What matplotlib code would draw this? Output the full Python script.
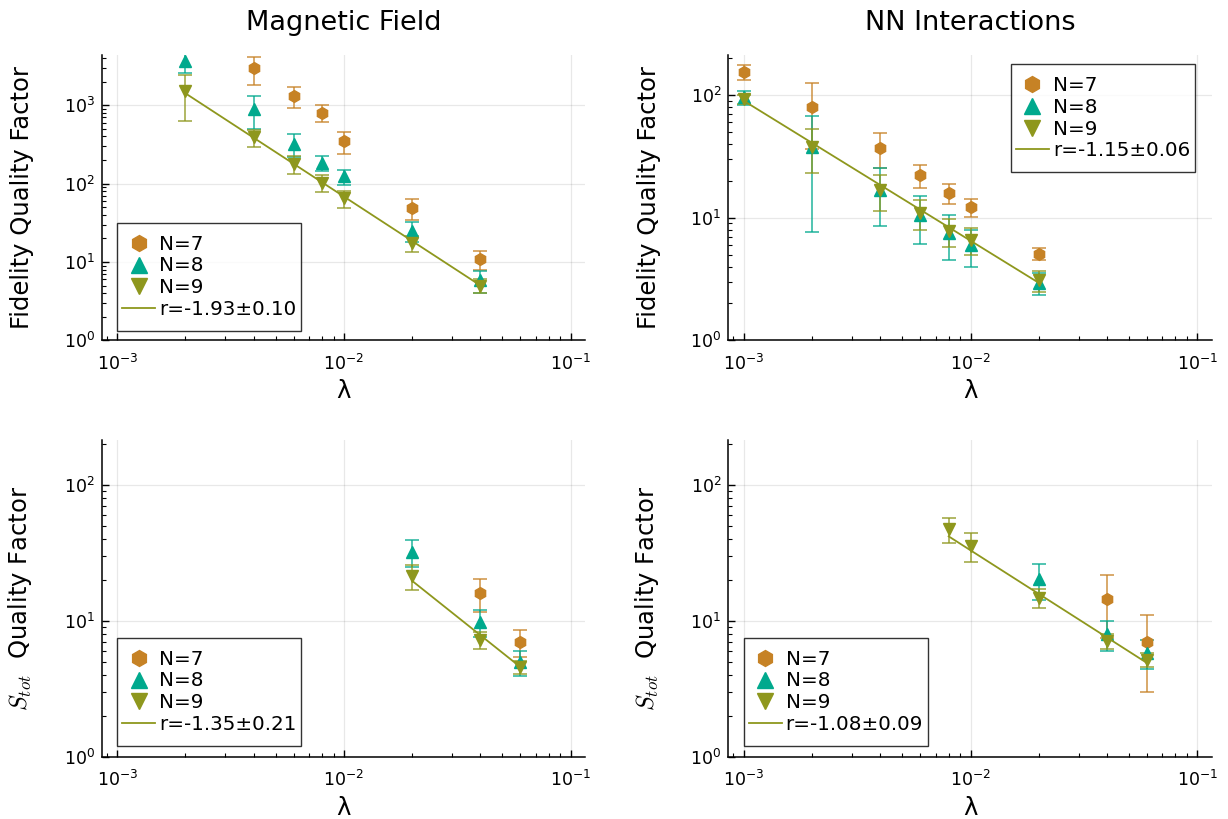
import matplotlib
matplotlib.use("Agg")
import matplotlib.pyplot as plt
from matplotlib.path import Path
from matplotlib.ticker import LogLocator, NullFormatter

# Plots.jl palette colours used for the three system sizes
C7, C8, C9 = "#c68225", "#00a98d", "#8e971d"

# ---- Magnetic Field, fidelity quality factor
mf_fid_x7 = [0.004, 0.006, 0.008, 0.01, 0.02, 0.04]
mf_fid_y7 = [2970, 1315, 805, 350, 49, 11]
mf_fid_e7 = [1150, 400, 190, 108, 15, 3]
mf_fid_x8 = [0.002, 0.004, 0.006, 0.008, 0.01, 0.02, 0.04]
mf_fid_y8 = [3720, 898, 325, 185, 124, 25, 5.8]
mf_fid_e8 = [1100, 400, 105, 40, 27, 7, 1.8]
mf_fid_x9 = [0.002, 0.004, 0.006, 0.008, 0.01, 0.02, 0.04]
mf_fid_y9 = [1535, 390, 178, 103, 65.5, 17.4, 5.0]
mf_fid_e9 = [900, 100, 44, 25, 16, 4, 1]
mf_fid_fitx = [0.002, 0.04]
mf_fid_fity = [1420, 5.0]
mf_fid_label = "r=-1.93±0.10"

# ---- NN Interactions, fidelity quality factor
nn_fid_x = [0.001, 0.002, 0.004, 0.006, 0.008, 0.01, 0.02]
nn_fid_y7 = [156, 80.7, 37.3, 22.4, 15.8, 12.2, 5.07]
nn_fid_e7 = [22, 44, 12, 4.8, 2.9, 2.0, 0.58]
nn_fid_y8 = [96.3, 37.6, 17.0, 10.6, 7.5, 6.0, 2.94]
nn_fid_e8 = [13, 30, 8.5, 4.5, 3.0, 2.0, 0.6]
nn_fid_y9 = [93.3, 38, 16.9, 10.9, 7.8, 6.6, 3.09]
nn_fid_e9 = [8, 15, 5.5, 3, 2, 1.6, 0.6]
nn_fid_fitx = [0.001, 0.02]
nn_fid_fity = [90, 2.94]
nn_fid_label = "r=-1.15±0.06"

# ---- Magnetic Field, S_tot quality factor
mf_s_x7 = [0.04, 0.06]
mf_s_y7 = [15.9, 7.0]
mf_s_e7 = [4.3, 1.6]
mf_s_x8 = [0.02, 0.04, 0.06]
mf_s_y8 = [32, 9.8, 4.95]
mf_s_e8 = [7, 2.2, 1]
mf_s_x9 = [0.02, 0.04, 0.06]
mf_s_y9 = [21.2, 7.2, 4.56]
mf_s_e9 = [4.5, 1.0, 0.5]
mf_s_fitx = [0.02, 0.06]
mf_s_fity = [19.6, 4.56]
mf_s_label = "r=-1.35±0.21"

# ---- NN Interactions, S_tot quality factor
nn_s_x7 = [0.04, 0.06]
nn_s_y7 = [14.5, 7.0]
nn_s_e7 = [7, 4]
nn_s_x8 = [0.02, 0.04, 0.06]
nn_s_y8 = [20.3, 8.0, 5.8]
nn_s_e8 = [6, 2, 1.4]
nn_s_x9 = [0.008, 0.01, 0.02, 0.04, 0.06]
nn_s_y9 = [46.9, 35.4, 14.8, 7.1, 5.15]
nn_s_e9 = [9.5, 8.5, 2.3, 0.9, 0.6]
nn_s_fitx = [0.008, 0.06]
nn_s_fity = [41.7, 4.88]
nn_s_label = "r=-1.08±0.09"

plt.rcParams["font.family"] = "DejaVu Sans"

fig = plt.figure(figsize=(12.28, 8.19), dpi=100)
W, H = 1228, 819
LEG_DY = 7  # extra vertical padding of the legend frame (px)


def make_axes(left, top, right, bottom):
    return fig.add_axes([left / W, 1 - bottom / H, (right - left) / W, (bottom - top) / H])


def tall_box(x0, y0, width, height, mutation_size):
    # square frame with more room above and below than at the sides
    y_lo, y_hi = y0 - LEG_DY, y0 + height + LEG_DY
    return Path([(x0, y_lo), (x0 + width, y_lo), (x0 + width, y_hi), (x0, y_hi), (x0, y_lo)],
                closed=True)


ax_tl = make_axes(101.7, 55, 585, 340.3)
ax_tr = make_axes(728.3, 55, 1211.7, 340.3)
ax_bl = make_axes(101.7, 440, 585, 756.7)
ax_br = make_axes(728.3, 440, 1211.7, 756.7)


def draw_series(ax, x, y, e, color, marker, label, ms):
    ax.errorbar(x, y, yerr=e, fmt="none", ecolor=color, elinewidth=1.2,
                capsize=5, capthick=1.2, alpha=0.8, zorder=2)
    ax.plot(x, y, linestyle="none", marker=marker, color=color, ms=ms,
            mec=color, label=label, zorder=3)


def style(ax, ylim, legend_kw):
    ax.set_xscale("log")
    ax.set_yscale("log")
    ax.set_xlim(8.54e-4, 0.1156)
    ax.set_ylim(*ylim)
    for s in ["top", "right"]:
        ax.spines[s].set_visible(False)
    for s in ["left", "bottom"]:
        ax.spines[s].set_linewidth(1.1)
    ax.grid(True, which="major", color="black", alpha=0.09, linewidth=0.9)
    ax.yaxis.set_major_locator(LogLocator(base=10, numticks=10))
    ax.yaxis.set_minor_locator(LogLocator(base=10, subs=range(2, 10), numticks=10))
    ax.yaxis.set_minor_formatter(NullFormatter())
    ax.xaxis.set_minor_formatter(NullFormatter())
    ax.tick_params(which="major", direction="in", length=5, width=1, labelsize=12.5, pad=5)
    ax.tick_params(axis="x", which="major", pad=9.5)
    ax.tick_params(which="minor", direction="in", length=3, width=0.8)
    ax.set_xlabel("λ", fontsize=17.5, labelpad=4)
    leg = ax.legend(fontsize=14.3, frameon=True, fancybox=False, edgecolor="black",
                    borderaxespad=0, handlelength=1.65, handletextpad=0.2,
                    labelspacing=0.14, borderpad=0.25, markerscale=1.35, **legend_kw)
    leg.get_frame().set_linewidth(1.0)
    leg.get_frame().set_boxstyle(tall_box)
    leg.set_zorder(5)


panels = [
    (ax_tl, [(mf_fid_x7, mf_fid_y7, mf_fid_e7), (mf_fid_x8, mf_fid_y8, mf_fid_e8),
             (mf_fid_x9, mf_fid_y9, mf_fid_e9)], mf_fid_fitx, mf_fid_fity, mf_fid_label,
     (1, 4385), dict(loc="lower left", bbox_to_anchor=(0.0323, (340.3 - 331 + LEG_DY) / 285.3))),
    (ax_tr, [(nn_fid_x, nn_fid_y7, nn_fid_e7), (nn_fid_x, nn_fid_y8, nn_fid_e8),
             (nn_fid_x, nn_fid_y9, nn_fid_e9)], nn_fid_fitx, nn_fid_fity, nn_fid_label,
     (1, 213), dict(loc="upper right", bbox_to_anchor=(0.9655, (340.3 - 64 - LEG_DY) / 285.3))),
    (ax_bl, [(mf_s_x7, mf_s_y7, mf_s_e7), (mf_s_x8, mf_s_y8, mf_s_e8),
             (mf_s_x9, mf_s_y9, mf_s_e9)], mf_s_fitx, mf_s_fity, mf_s_label,
     (1, 213), dict(loc="lower left", bbox_to_anchor=(0.0323, (756.7 - 746 + LEG_DY) / 316.7))),
    (ax_br, [(nn_s_x7, nn_s_y7, nn_s_e7), (nn_s_x8, nn_s_y8, nn_s_e8),
             (nn_s_x9, nn_s_y9, nn_s_e9)], nn_s_fitx, nn_s_fity, nn_s_label,
     (1, 213), dict(loc="lower left", bbox_to_anchor=(0.0323, (756.7 - 746 + LEG_DY) / 316.7))),
]

for ax, series, fx, fy, flabel, ylim, legkw in panels:
    (x7, y7, e7), (x8, y8, e8), (x9, y9, e9) = series
    draw_series(ax, x7, y7, e7, C7, "h", "N=7", 8.5)
    draw_series(ax, x8, y8, e8, C8, "^", "N=8", 8.5)
    draw_series(ax, x9, y9, e9, C9, "v", "N=9", 8.5)
    ax.plot(fx, fy, color=C9, linewidth=1.3, label=flabel, zorder=4)
    style(ax, ylim, legkw)

ax_tl.set_title("Magnetic Field", fontsize=19.5, pad=18)
ax_tr.set_title("NN Interactions", fontsize=19.5, pad=18)
ax_tl.set_ylabel("Fidelity Quality Factor", fontsize=17.5, labelpad=21)
ax_tr.set_ylabel("Fidelity Quality Factor", fontsize=17.5, labelpad=21)
ax_bl.set_ylabel(r"$S_{tot}$  Quality Factor", fontsize=17.5, labelpad=21, math_fontfamily="cm")
ax_br.set_ylabel(r"$S_{tot}$  Quality Factor", fontsize=17.5, labelpad=21, math_fontfamily="cm")

fig.savefig("out.png", dpi=100)
